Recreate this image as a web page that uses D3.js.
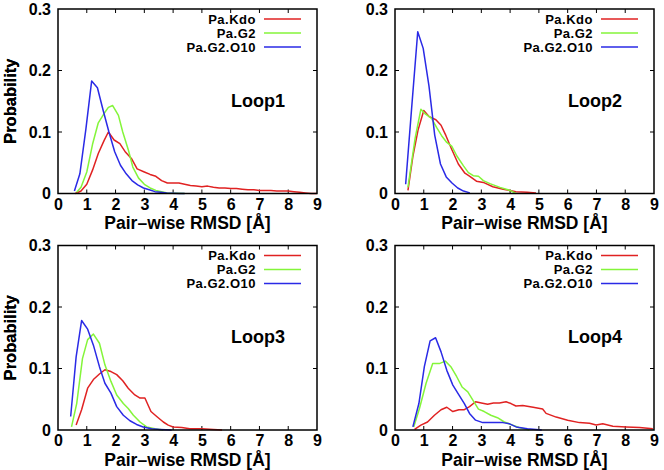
<!DOCTYPE html>
<html><head><meta charset="utf-8">
<script src="https://cdn.jsdelivr.net/npm/d3@7"></script>
<style>html,body{margin:0;padding:0;background:#fff;}svg{display:block;}</style>
</head><body>
<svg id="chart" width="664" height="470"></svg>
<script>
const seriesNames = ["Pa.Kdo", "Pa.G2", "Pa.G2.O10"];
const seriesColors = ["#e02222", "#84f53a", "#2a2ae6"];
const panelTitles = ["Loop1", "Loop2", "Loop3", "Loop4"];
const xTicks = [0, 1, 2, 3, 4, 5, 6, 7, 8, 9];
const yTicks = [0, 0.1, 0.2, 0.3];
const yTickLabels = ["0", "0.1", "0.2", "0.3"];
const xLabel = "Pair\u2013wise RMSD [\u00c5]";
const yLabel = "Probability";

const loop1Kdo = [[0.6,0],[0.8,0.004],[1.0,0.015],[1.2,0.038],[1.4,0.065],[1.6,0.086],[1.75,0.1],[1.95,0.087],[2.15,0.081],[2.35,0.067],[2.55,0.057],[2.75,0.04],[3.0,0.035],[3.2,0.031],[3.4,0.028],[3.6,0.021],[3.8,0.017],[4.0,0.017],[4.2,0.017],[4.4,0.015],[4.6,0.013],[4.8,0.012],[5.0,0.011],[5.2,0.012],[5.4,0.01],[5.6,0.009],[5.8,0.009],[6.0,0.008],[6.2,0.008],[6.4,0.007],[6.6,0.006],[6.8,0.006],[7.0,0.005],[7.2,0.005],[7.4,0.005],[7.6,0.004],[7.8,0.004],[8.0,0.004],[8.2,0.003],[8.4,0.002],[8.6,0.001],[8.8,0],[9.0,0]];
const loop1G2 = [[0.65,0.002],[0.8,0.01],[1.0,0.035],[1.2,0.08],[1.4,0.115],[1.6,0.13],[1.75,0.14],[1.9,0.143],[2.1,0.127],[2.25,0.1],[2.45,0.07],[2.6,0.043],[2.8,0.025],[3.0,0.015],[3.2,0.009],[3.4,0.005],[3.6,0.003],[3.8,0.001],[4.1,0.0005],[4.4,0]];
const loop1G2O10 = [[0.57,0.004],[0.76,0.032],[0.97,0.105],[1.17,0.183],[1.37,0.172],[1.57,0.135],[1.77,0.1],[1.97,0.068],[2.17,0.046],[2.37,0.032],[2.57,0.021],[2.77,0.014],[2.97,0.009],[3.17,0.006],[3.37,0.003],[3.57,0.002],[3.77,0.001],[3.97,0.0005],[4.2,0],[4.4,0]];

const loop2Kdo = [[0.45,0.005],[0.62,0.06],[0.8,0.103],[1.0,0.135],[1.19,0.125],[1.42,0.12],[1.6,0.111],[1.77,0.094],[1.97,0.072],[2.2,0.048],[2.43,0.033],[2.6,0.028],[2.83,0.02],[3.07,0.018],[3.4,0.011],[3.76,0.007],[4.2,0.003],[4.6,0.002],[4.9,0.001]];
const loop2G2 = [[0.45,0.01],[0.7,0.09],[0.9,0.137],[1.04,0.13],[1.27,0.122],[1.45,0.107],[1.62,0.094],[1.8,0.083],[1.97,0.077],[2.15,0.061],[2.38,0.045],[2.55,0.034],[2.72,0.029],[2.9,0.028],[3.07,0.021],[3.3,0.016],[3.65,0.01],[4.0,0.005],[4.2,0]];
const loop2G2O10 = [[0.37,0.015],[0.58,0.14],[0.79,0.263],[0.98,0.236],[1.18,0.175],[1.38,0.095],[1.58,0.048],[1.78,0.027],[1.98,0.017],[2.18,0.009],[2.38,0.004],[2.6,0.001]];

const loop3Kdo = [[0.63,0.008],[0.82,0.033],[1.03,0.068],[1.23,0.082],[1.44,0.091],[1.63,0.098],[1.84,0.095],[2.04,0.09],[2.25,0.08],[2.44,0.068],[2.67,0.057],[2.85,0.052],[3.02,0.052],[3.23,0.03],[3.43,0.022],[3.66,0.013],[3.83,0.008],[4.0,0.005],[4.3,0.004],[4.58,0.002],[5.0,0.002],[5.4,0.001],[5.7,0]];
const loop3G2 = [[0.47,0.005],[0.65,0.043],[0.85,0.116],[1.03,0.147],[1.23,0.156],[1.44,0.141],[1.63,0.106],[1.84,0.079],[2.04,0.057],[2.27,0.043],[2.44,0.035],[2.62,0.024],[2.85,0.013],[3.08,0.005],[3.37,0.002],[3.66,0]];
const loop3G2O10 = [[0.44,0.022],[0.63,0.119],[0.82,0.178],[1.03,0.164],[1.23,0.138],[1.44,0.103],[1.63,0.076],[1.84,0.06],[2.04,0.038],[2.27,0.024],[2.5,0.015],[2.73,0.009],[2.96,0.005],[3.25,0.002],[3.54,0.001],[3.95,0]];

const loop4Kdo = [[0.68,0.001],[0.9,0.008],[1.13,0.013],[1.37,0.024],[1.6,0.033],[1.8,0.037],[2.01,0.03],[2.22,0.033],[2.41,0.033],[2.59,0.038],[2.8,0.046],[3.0,0.044],[3.22,0.042],[3.42,0.044],[3.63,0.044],[3.86,0.046],[4.03,0.043],[4.2,0.039],[4.44,0.04],[4.8,0.037],[5.13,0.034],[5.25,0.027],[5.6,0.021],[6.0,0.016],[6.41,0.012],[6.76,0.011],[6.99,0.008],[7.22,0.01],[7.57,0.006],[8.03,0.005],[8.5,0.004],[8.96,0.002]];
const loop4G2 = [[0.65,0.005],[0.85,0.035],[1.08,0.076],[1.31,0.108],[1.54,0.108],[1.75,0.112],[1.94,0.103],[2.14,0.087],[2.33,0.07],[2.53,0.062],[2.7,0.049],[2.9,0.034],[3.1,0.03],[3.33,0.024],[3.56,0.02],[3.8,0.013],[4.09,0.008],[4.3,0.004],[4.67,0]];
const loop4G2O10 = [[0.62,0.005],[0.83,0.043],[1.02,0.103],[1.22,0.145],[1.41,0.15],[1.6,0.127],[1.8,0.097],[2.01,0.073],[2.22,0.057],[2.41,0.043],[2.59,0.027],[2.8,0.016],[3.05,0.012],[3.4,0.012],[3.75,0.012],[3.98,0.01],[4.21,0.005],[4.6,0.002],[5.1,0]];

const panelData = [
  [loop1Kdo, loop1G2, loop1G2O10],
  [loop2Kdo, loop2G2, loop2G2O10],
  [loop3Kdo, loop3G2, loop3G2O10],
  [loop4Kdo, loop4G2, loop4G2O10]
];

const svg = d3.select("#chart");
const W = 259, H = 184.5;
const lefts = [58, 395], tops = [9, 245.5];
const FONT = "'Liberation Sans', Arial, Helvetica, sans-serif";

panelData.forEach((series, i) => {
  const left = lefts[i % 2], top = tops[Math.floor(i / 2)];
  const g = svg.append("g").attr("transform", `translate(${left},${top})`);
  const x = d3.scaleLinear().domain([0, 9]).range([0, W]);
  const y = d3.scaleLinear().domain([0, 0.3]).range([H, 0]);

  // inward ticks (gnuplot style)
  const tl = 4;
  xTicks.slice(1, -1).forEach(t => {
    g.append("line").attr("x1", x(t)).attr("x2", x(t)).attr("y1", H).attr("y2", H - tl).attr("stroke", "#000").attr("stroke-width", 1);
    g.append("line").attr("x1", x(t)).attr("x2", x(t)).attr("y1", 0).attr("y2", tl).attr("stroke", "#000").attr("stroke-width", 1);
  });
  yTicks.slice(1, -1).forEach(t => {
    g.append("line").attr("x1", 0).attr("x2", tl).attr("y1", y(t)).attr("y2", y(t)).attr("stroke", "#000").attr("stroke-width", 1);
    g.append("line").attr("x1", W).attr("x2", W - tl).attr("y1", y(t)).attr("y2", y(t)).attr("stroke", "#000").attr("stroke-width", 1);
  });

  // tick labels via axes
  const xAxis = g.append("g").attr("transform", `translate(0,${H})`)
    .call(d3.axisBottom(x).tickValues(xTicks).tickSize(0).tickPadding(5).tickFormat(d3.format("d")));
  xAxis.select(".domain").remove();
  xAxis.selectAll("text").attr("font-family", FONT).attr("font-weight", "bold").attr("font-size", 16).attr("fill", "#000");
  const yAxis = g.append("g")
    .call(d3.axisLeft(y).tickValues(yTicks).tickSize(0).tickPadding(7).tickFormat((d, k) => yTickLabels[k]));
  yAxis.select(".domain").remove();
  yAxis.selectAll("text").attr("font-family", FONT).attr("font-weight", "bold").attr("font-size", 16).attr("fill", "#000");

  // lines
  const line = d3.line().x(d => x(d[0])).y(d => y(d[1]));
  series.forEach((s, k) => {
    g.append("path").datum(s).attr("d", line).attr("fill", "none")
      .attr("stroke", seriesColors[k]).attr("stroke-width", 1.5).attr("stroke-linejoin", "round");
  });

  // frame
  g.append("rect").attr("x", 0).attr("y", 0).attr("width", W).attr("height", H)
    .attr("fill", "none").attr("stroke", "#000").attr("stroke-width", 1.5);

  // legend
  seriesNames.forEach((n, k) => {
    const ly = 10 + k * 14;
    g.append("text").attr("x", 198).attr("y", ly + 4.7).attr("text-anchor", "end")
      .attr("font-family", FONT).attr("font-weight", "bold").attr("font-size", 13)
      .attr("letter-spacing", 0.5).text(n);
    g.append("line").attr("x1", 206).attr("x2", 243).attr("y1", ly).attr("y2", ly)
      .attr("stroke", seriesColors[k]).attr("stroke-width", 1.5);
  });

  // panel title
  g.append("text").attr("x", 173).attr("y", 97.5)
    .attr("font-family", FONT).attr("font-weight", "bold").attr("font-size", 18).text(panelTitles[i]);

  // axis titles
  g.append("text").attr("x", W / 2).attr("y", H + 35.5).attr("text-anchor", "middle")
    .attr("font-family", FONT).attr("font-weight", "bold").attr("font-size", 17.5).text(xLabel);
  g.append("text").attr("transform", `translate(${-left + 16},${H / 2}) rotate(-90)`).attr("text-anchor", "middle")
    .attr("font-family", FONT).attr("font-weight", "bold").attr("font-size", 16.5).text(yLabel);
});
</script>
</body></html>
